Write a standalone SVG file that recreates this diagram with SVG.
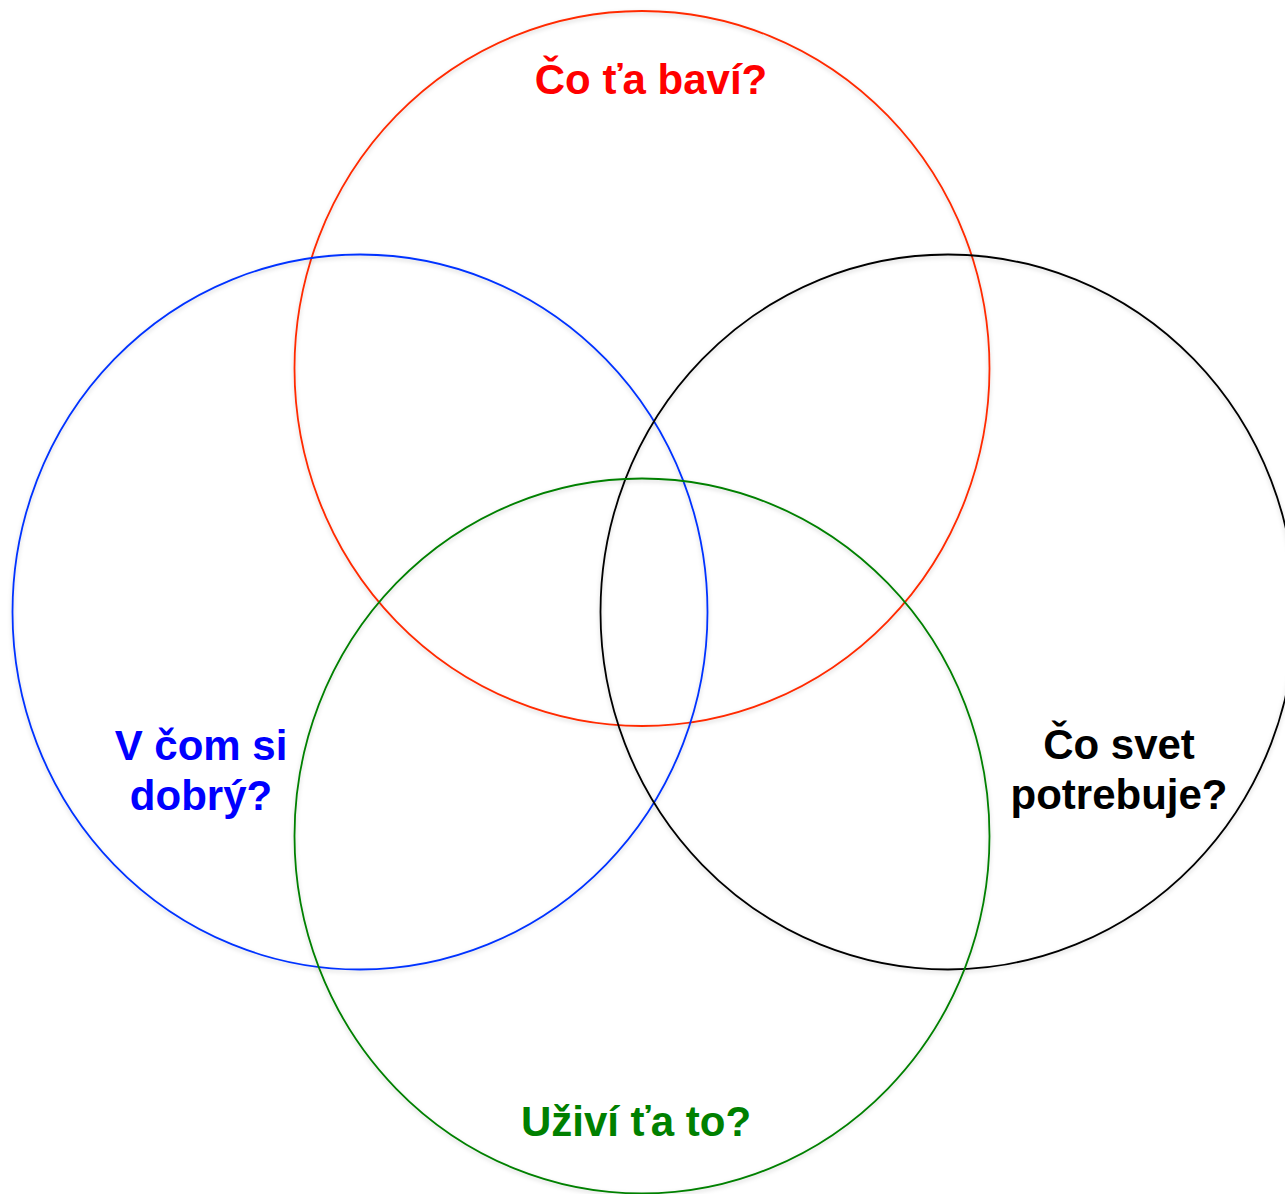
<svg xmlns="http://www.w3.org/2000/svg" width="1285" height="1194" viewBox="0 0 1285 1194">
<defs>
<filter id="sh" x="-5%" y="-5%" width="110%" height="110%">
<feDropShadow dx="0" dy="2" stdDeviation="2" flood-color="#000" flood-opacity="0.18"/>
</filter>
<style>
.c{fill:none;stroke-width:1.8;filter:url(#sh)}
.t{font-family:"Liberation Sans",Arial,sans-serif;font-weight:bold;font-size:42px;text-anchor:middle}
</style>
</defs>
<rect width="1285" height="1194" fill="#fff"/>
<g id="node-red"><ellipse class="c" cx="642" cy="368.5" rx="347.5" ry="357.5" stroke="#ff2a00"/><text class="t" x="651" y="94" fill="#ff0000">Čo ťa baví?</text></g>
<g id="node-blue"><ellipse class="c" cx="360" cy="612" rx="347.5" ry="357.5" stroke="#0033ff"/><text class="t" fill="#0000ff"><tspan x="201" y="760">V čom si</tspan><tspan x="201" y="810">dobrý?</tspan></text></g>
<g id="node-black"><ellipse class="c" cx="948" cy="612" rx="347.5" ry="357.5" stroke="#000"/><text class="t" fill="#000"><tspan x="1119" y="759">Čo svet</tspan><tspan x="1119" y="809">potrebuje?</tspan></text></g>
<g id="node-green"><ellipse class="c" cx="642" cy="836" rx="347.5" ry="357.5" stroke="#008000"/><text class="t" x="636" y="1136" fill="#008000">Uživí ťa to?</text></g>
<g id="connectors"/>
</svg>
